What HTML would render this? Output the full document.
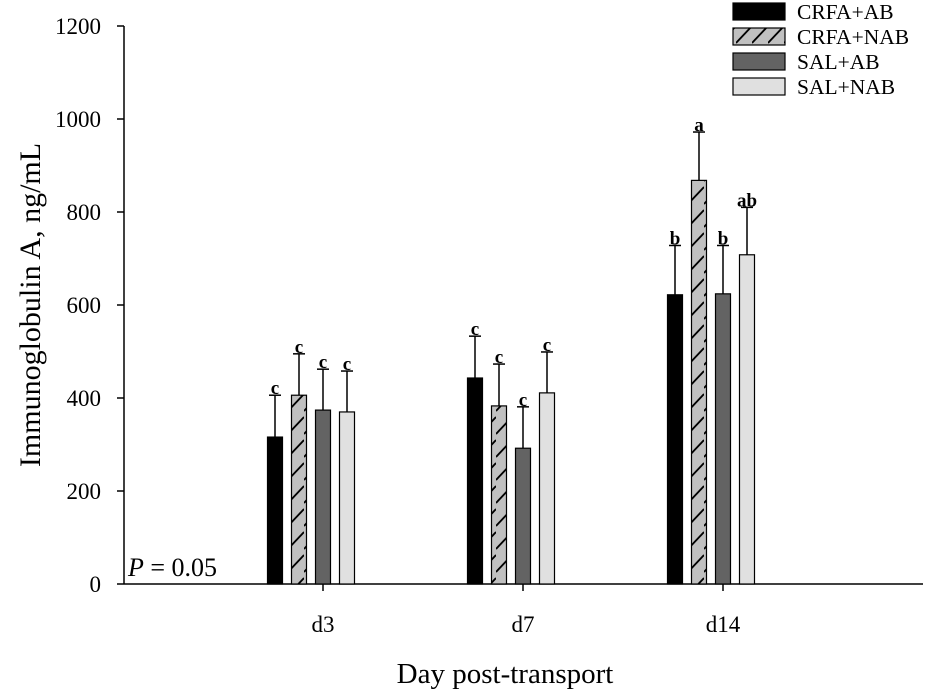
<!DOCTYPE html>
<html><head><meta charset="utf-8"><style>
body{margin:0;background:#fff}
svg{display:block;font-family:"Liberation Serif",serif}
</style></head><body>
<svg id="chart" width="926" height="698" viewBox="0 0 926 698">
<defs>
<pattern id="hatch" patternUnits="userSpaceOnUse" width="16" height="23" x="0" y="0">
<rect width="16" height="23" fill="#c0c0c0"/>
<line x1="0" y1="20" x2="16" y2="3" stroke="#000" stroke-width="1.8"/>
</pattern>
</defs>
<g id="plot"></g>
</svg>
<script>
const categories = ["d3","d7","d14"];
const seriesNames = ["CRFA+AB","CRFA+NAB","SAL+AB","SAL+NAB"];
const crfaAB  = [316, 443, 622];
const crfaNAB = [406, 383, 868];
const salAB   = [374, 292, 624];
const salNAB  = [370, 411, 708];
const errCrfaAB  = [90, 90, 106];
const errCrfaNAB = [89, 90, 104];
const errSalAB   = [88, 89, 104];
const errSalNAB  = [88, 88, 102];
const lettersCrfaAB  = ["c","c","b"];
const lettersCrfaNAB = ["c","c","a"];
const lettersSalAB   = ["c","c","b"];
const lettersSalNAB  = ["c","c","ab"];
const yTicks = [0,200,400,600,800,1000,1200];

const NS="http://www.w3.org/2000/svg";
const g=document.getElementById('plot');
const y0=584, yTop=26, yMax=1200;
const yS=v=>y0-(v/yMax)*(y0-yTop);
const xC=i=>323+i*200;
const offs=[-48,-24,0,24];
const fills=["#000","url(#hatch)","#636363","#e0e0e0"];
const vals=[crfaAB,crfaNAB,salAB,salNAB];
const errs=[errCrfaAB,errCrfaNAB,errSalAB,errSalNAB];
const lets=[lettersCrfaAB,lettersCrfaNAB,lettersSalAB,lettersSalNAB];
function mk(t,a,txt){const e=document.createElementNS(NS,t);for(const k in a)e.setAttribute(k,a[k]);if(txt!=null)e.textContent=txt;g.appendChild(e);return e;}

let e=mk('line',{x1:124,y1:y0,x2:923,y2:y0,stroke:'#000','stroke-width':1.5});


e=mk('line',{x1:124,y1:yTop,x2:124,y2:y0,stroke:'#000','stroke-width':1.5});


yTicks.forEach(v=>{
 const y=yS(v);
 e=mk('line',{x1:117,y1:y,x2:124,y2:y,stroke:'#000','stroke-width':1.5});
 
 
 e=mk('text',{x:101,y:y+8,'text-anchor':'end','font-size':23},String(v));
 
 
});
categories.forEach((c,i)=>{
 const x=xC(i);
 e=mk('line',{x1:x,y1:y0,x2:x,y2:y0+7,stroke:'#000','stroke-width':1.5});
 
 
 e=mk('text',{x:x,y:y0+48,'text-anchor':'middle','font-size':23},c);
 
 
 for(let s=0;s<4;s++){
  const cx=x+offs[s], v=vals[s][i], top=yS(v), et=yS(v+errs[s][i]);
  e=mk('line',{x1:cx,y1:top,x2:cx,y2:et,stroke:'#000','stroke-width':1.5});
  
  
  e=mk('line',{x1:cx-6,y1:et,x2:cx+6,y2:et,stroke:'#000','stroke-width':1.5});
  
  
  e=mk('rect',{x:cx-7.5,y:top,width:15,height:y0-top,fill:fills[s],stroke:'#000','stroke-width':1.2});
  
  
  e=mk('text',{x:cx,y:et-1,'text-anchor':'middle','font-size':19,'font-weight':'bold'},lets[s][i]);
  
  
 }
});
seriesNames.forEach((n,s)=>{
 const y=3+s*25;
 e=mk('rect',{x:733,y:y,width:52,height:17,fill:fills[s],stroke:'#000','stroke-width':1.2});
 
 
 e=mk('text',{x:797,y:y+16,'font-size':21.5},n);
 
 
});
e=mk('text',{x:128,y:576,'font-size':26},'');
e.innerHTML='<tspan font-style="italic">P</tspan> = 0.05';


e=mk('text',{x:505,y:683,'text-anchor':'middle','font-size':29},'Day post-transport');


e=mk('text',{x:0,y:0,'text-anchor':'middle','font-size':30,transform:'translate(40,305) rotate(-90)'},'Immunoglobulin A, ng/mL');


</script>
</body></html>
